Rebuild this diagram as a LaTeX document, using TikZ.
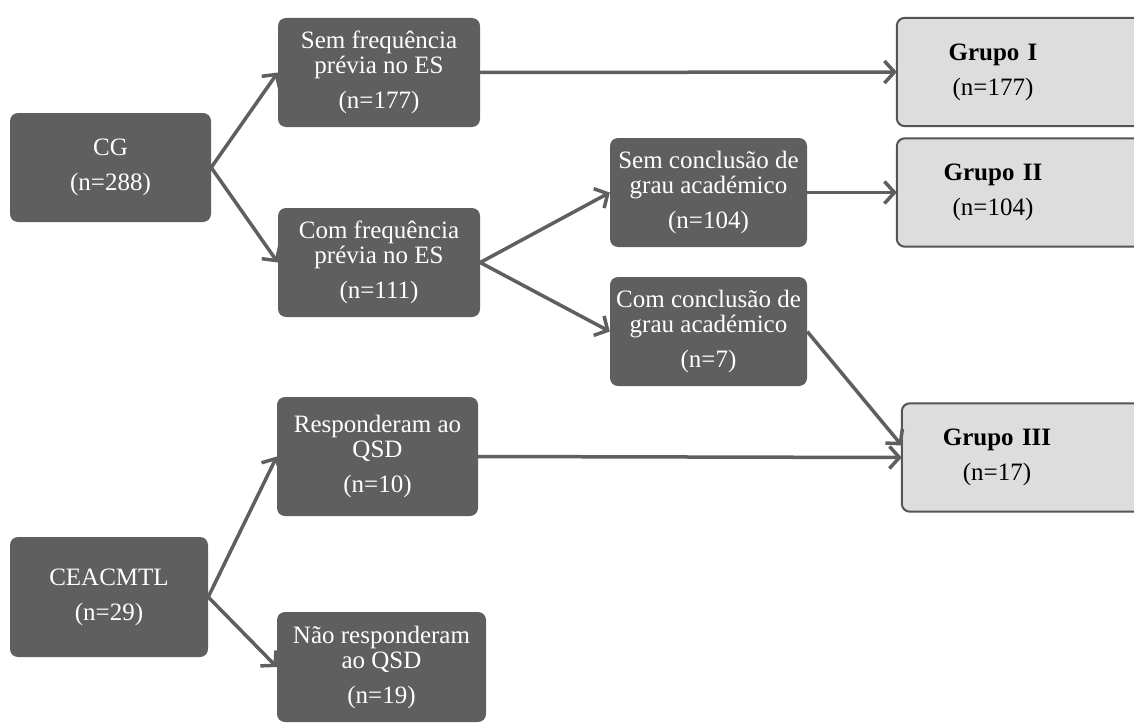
\documentclass[tikz,border=0pt]{standalone}
\usepackage{fontspec}
\setmainfont{Liberation Serif}
\usetikzlibrary{arrows.meta,calc,backgrounds}
\definecolor{boxgray}{HTML}{5F5F5F}
\definecolor{grpfill}{HTML}{DDDDDD}
\definecolor{grpline}{HTML}{555555}
\begin{document}
\begin{tikzpicture}[x=1pt,y=-1pt,
  box/.style={fill=boxgray, rounded corners=8pt, text=white, align=center, inner sep=0pt,
    font=\fontsize{25}{25}\selectfont},
  grp/.style={align=center, text width=#1, inner sep=0pt, minimum height=108pt,
    font=\fontsize{25}{25}\selectfont},
  grpbox/.style={draw=grpline, fill=grpfill, line width=2pt, rounded corners=8pt},
  arr/.style={draw=boxgray, line width=3.5pt, -{Straight Barb[length=10pt,width=22pt]}}]
\useasboundingbox (0,0) rectangle (1134,725);
\node[box, minimum width=201pt, minimum height=109pt] (cg) at (110.5,167.5) {CG\\[10pt](n=288)};
\node[box, minimum width=202pt, minimum height=109pt] (sf) at (379,72.5) {Sem frequência\\prévia no ES\\[10pt](n=177)};
\node[box, minimum width=202pt, minimum height=109pt] (cf) at (379,262.5) {Com frequência\\prévia no ES\\[10pt](n=111)};
\node[box, minimum width=197pt, minimum height=109pt] (sc) at (708.5,192.5) {Sem conclusão de\\grau académico\\[10pt](n=104)};
\node[box, minimum width=197pt, minimum height=109pt] (cc) at (708.5,331.5) {Com conclusão de\\grau académico\\[10pt](n=7)};
\node[box, minimum width=201pt, minimum height=119pt] (rq) at (377.5,456.5) {Responderam ao\\QSD\\[10pt](n=10)};
\node[box, minimum width=198pt, minimum height=120pt] (ce) at (109,597) {CEACMTL\\[10pt](n=29)};
\node[box, minimum width=209pt, minimum height=110pt] (nr) at (381.5,667) {Não responderam\\ao QSD\\[10pt](n=19)};
\node[grp=192pt] (g1) at (993,72) {\textbf{Grupo I}\\[10pt](n=177)};
\node[grp=192pt] (g2) at (993,192.5) {\textbf{Grupo II}\\[10pt](n=104)};
\node[grp=190pt] (g3) at (997,457.5) {\textbf{Grupo III}\\[10pt](n=17)};
\begin{scope}[on background layer]
\draw[grpbox] (g1.north west) rectangle ($(g1.south east)+(60,0)$);
\draw[grpbox] (g2.north west) rectangle ($(g2.south east)+(60,0)$);
\draw[grpbox] (g3.north west) rectangle ($(g3.south east)+(60,0)$);
\end{scope}
\draw[arr] (cg.east) -- (sf.west);
\draw[arr] (cg.east) -- (cf.west);
\draw[arr] (sf.east) -- (g1.west);
\draw[arr] (cf.east) -- (sc.west);
\draw[arr] (cf.east) -- (cc.west);
\draw[arr] (sc.east) -- (g2.west);
\draw[arr] (cc.east) -- ($(g3.west)+(0,-12)$);
\draw[arr] (rq.east) -- (g3.west);
\draw[arr] (ce.east) -- (rq.west);
\draw[arr] (ce.east) -- (nr.west);
\end{tikzpicture}
\end{document}
